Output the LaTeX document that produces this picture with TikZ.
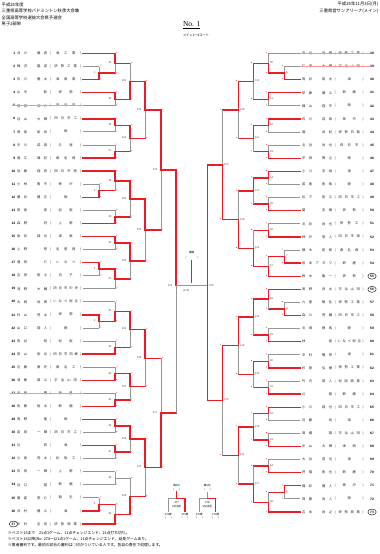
\documentclass[tikz,border=0pt]{standalone}
\usepackage{fontspec}
\newfontfamily\jp{Noto Sans CJK JP}
\newfontfamily\nf{Liberation Sans}
\newfontfamily\serifnf{Liberation Serif}
\usetikzlibrary{calc}
\definecolor{rl}{RGB}{236,28,36}
\definecolor{gl}{RGB}{150,150,150}
\definecolor{pk}{RGB}{244,150,150}
\def\spr#1{\sprA#1\relax}
\def\sprA#1#2{#1\ifx\relax#2\else\hfill\expandafter\sprA\expandafter#2\fi}
\def\tdx{1.8}
\tikzset{
 RD/.style={draw=rl,line width=1.35pt,line cap=rect},
 GR/.style={draw=gl,line width=0.85pt},
 labL/.style={font=\nf\fontsize{2.7}{3}\selectfont,text=black!70,inner sep=0,anchor=east,xshift=-3.5pt,yshift=0.6pt},
 labR/.style={font=\nf\fontsize{2.7}{3}\selectfont,text=black!70,inner sep=0,anchor=west,xshift=1.5pt,yshift=0.6pt},
 lab/.style={labL},
 num/.style={font=\nf\bfseries\fontsize{3.3}{3.5}\selectfont,inner sep=0},
 nm/.style={font=\jp\fontsize{3.3}{3.5}\selectfont,inner sep=0,text=black!85},
 hd/.style={font=\jp\fontsize{4.3}{4.6}\selectfont,inner sep=0},
 ft/.style={font=\jp\fontsize{3.8}{4.1}\selectfont,inner sep=0,anchor=west},
 ms/.style={font=\jp\fontsize{2.6}{2.9}\selectfont,inner sep=0},
}
% match: name, childA, childB, x, hA, hB, vA, vB, label
\newcommand\mt[9]{%
 \coordinate (#1h) at ($(#2)!0.5!(#3)$);
 \coordinate (#1) at (#1h -| #4,0);
 \draw[#5] (#2) -- (#2 -| #4,0);
 \draw[#6] (#3) -- (#3 -| #4,0);
 \draw[#7] (#2 -| #4,0) -- (#1);
 \draw[#8] (#1) -- (#3 -| #4,0);
 \fill[rl] ($(#2 -| #4,0)+(\tdx,-0.9)$) circle (0.45pt);
 \fill[rl] ($(#3 -| #4,0)+(\tdx,-0.9)$) circle (0.45pt);
 \node[lab] (t#1) at (#1) {#9};
}
\newcommand\pL[3]{%
 \pgfmathsetmacro\yy{53.5+(#1-1)*13.07}%
 \coordinate (L#1) at (83,\yy);
 \node[num,anchor=east] (nL#1) at (15.5,\yy) {#1};
 \node[nm,anchor=west] (aL#1) at (17,\yy) {\makebox[30pt][s]{\spr{#2}}};
 \node[nm,anchor=west] (sL#1) at (50,\yy) {\makebox[31pt][s]{(\hfill\spr{#3}\hfill)}};
}
\newcommand\pR[3]{%
 \pgfmathsetmacro\yy{53.5+(#1-38)*13.1}%
 \coordinate (L#1) at (300.4,\yy);
 \node[nm,anchor=west] (aL#1) at (302,\yy) {\makebox[30pt][s]{\spr{#2}}};
 \node[nm,anchor=west] (sL#1) at (334.5,\yy) {\makebox[29pt][s]{(\hfill\spr{#3}\hfill)}};
 \node[num,anchor=west] (nL#1) at (370,\yy) {#1};
}
\begin{document}
\begin{tikzpicture}[x=1pt,y=-1pt]
\useasboundingbox (0,0) rectangle (380,554);
\fill[white] (0,0) rectangle (380,554);
% header
\node[hd,anchor=west] (h1) at (1.5,4.5) {平成26年度};
\node[hd,anchor=west] (h2) at (1.5,11) {三重県高等学校バドミントン秋季大会兼};
\node[hd,anchor=west] (h3) at (1.5,17.5) {全国高等学校選抜大会県予選会};
\node[hd,anchor=west] (h4) at (1.5,24) {男子2部単};
\node[hd,anchor=east] (h5) at (378.5,4.5) {平成26年11月3日(月)};
\node[hd,anchor=east] (h6) at (378.5,11) {三重県営サンアリーナ(メイン)};
\node[font=\serifnf\fontsize{7.5}{8}\selectfont,inner sep=0] (title) at (191.7,25.5) {\underline{No. 1}};
\node[ms,font=\jp\fontsize{3.2}{3.5}\selectfont] (sub) at (196,35.5) {メイン1～4コート};
% left players
\pL{1}{井川　優真}{津工業}
\pL{2}{梅沢　雄成}{伊勢工業}
\pL{3}{石川　優太}{津商業}
\pL{4}{山中　　聡}{伊勢}
\pL{5}{岡田　涼介}{四日市}
\pL{6}{谷山　大輝}{四日市工}
\pL{7}{西島　祐尚}{暁}
\pL{8}{中川　成真}{久居}
\pL{9}{堀江　颯記}{桑名西}
\pL{10}{加藤　翔吾}{四日市南}
\pL{11}{小林　篤平}{神戸}
\pL{12}{藤井　健正}{暁}
\pL{13}{田島　　拓}{松阪}
\pL{14}{森野　　将}{上野}
\pL{15}{坂井　誠也}{津東}
\pL{16}{上野　　悠}{名張西}
\pL{17}{増田　　仁}{いなべ}
\pL{18}{吉田　剛士}{白子}
\pL{19}{浅野　大輔}{四日市中央}
\pL{20}{大西　尚貴}{いなべ総合}
\pL{21}{村山　亮太}{伊勢}
\pL{22}{山口　翔人}{暁}
\pL{23}{長谷　　稔}{松阪}
\pL{24}{長山　拓也}{四日市四郷}
\pL{25}{近藤　康史}{桑名工}
\pL{26}{須藤　陽斗}{宇治山田}
\pL{27}{中西　　慶}{海星}
\pL{28}{佐藤　裕太}{鈴鹿}
\pL{29}{真野　　隆}{暁}
\pL{30}{岩田　一輝}{四日市工}
\pL{31}{辻　　　昇}{津}
\pL{32}{小島　亮太}{松阪工}
\pL{33}{石田　一輝}{上野}
\pL{34}{谷口　　翔}{鈴鹿}
\pL{35}{服部　悠介}{稲生}
\pL{36}{井村　健斗}{津}
\pL{37}{中村　圭吾}{伊勢商業}
\draw[black,line width=0.4pt] (nL37.center) ellipse (4.2pt and 3pt);
% right players
\pR{38}{寺谷　尚樹}{伊勢工業}
\pR{39}{仁田　大輝}{宇治山田}
\pR{40}{高井　俊太}{津}
\pR{41}{伊藤　健斗}{鈴鹿}
\pR{42}{横山　翔平}{暁}
\pR{43}{石川　成希}{神戸}
\pR{44}{堀　　武紀}{伊賀白鳳}
\pR{45}{北谷　尚也}{四日市}
\pR{46}{平田　賢之}{暁}
\pR{47}{小川　友裕}{津}
\pR{48}{若尾　拓哉}{暁}
\pR{49}{松下　拓斗}{四日市工}
\pR{50}{菊　　友樹}{伊勢}
\pR{51}{北井　尚也}{伊勢工}
\pR{52}{神戸　悠人}{四日市南}
\pR{53}{横木　拓郎}{桑名西}
\pR{54}{宮本アダマ}{鈴鹿}
\pR{55}{鈴木　亀一}{伊勢}
\pR{56}{髙野　良太}{宇治山田}
\pR{57}{九里　敏弘}{伊勢工業}
\pR{58}{森川　亮輔}{四日市工}
\pR{59}{北畑　静馬}{暁}
\pR{60}{林　　　直}{いなべ総合}
\pR{61}{中村　暢昂}{津}
\pR{62}{杉原　弘樹}{伊勢工業}
\pR{63}{竹内　昭人}{松阪商業}
\pR{64}{辻　　　翔}{鈴鹿}
\pR{65}{小川　翔也}{四日市工}
\pR{66}{近藤　　武}{津}
\pR{67}{高橋　　翔}{宇治山田}
\pR{68}{中山　大輝}{津西}
\pR{69}{大谷　晃也}{津}
\pR{70}{円福　拓也}{鈴鹿}
\pR{71}{福井　健人}{神戸}
\pR{72}{齊藤　尚人}{暁}
\pR{73}{吉本　尚之}{伊勢商業}
\foreach \k in {55,56,73} {\draw[black,line width=0.4pt] (nL\k.center) ellipse (4.2pt and 3pt);}
% pink strike lines
\draw[pk,line width=0.6pt] (12,{53.5+4*13.07}) -- (L5);
\draw[pk,line width=0.6pt] (10,{53.5+26*13.07}) -- (L27);
\draw[pk,line width=0.6pt] (L38) -- (370,53.5);
\draw[pk,line width=0.6pt] (284,66.6) -- (370,66.6);
% ---------- left bracket
\mt{P1}{L2}{L3}{99}{GR}{RD}{GR}{RD}{1}
\mt{M34}{L1}{P1}{115}{RD}{RD}{RD}{GR}{34}
\mt{M35}{L4}{L5}{115}{RD}{GR}{RD}{GR}{35}
\mt{M102}{M34}{M35}{130}{RD}{RD}{GR}{RD}{102}
\mt{M36}{L6}{L7}{115}{RD}{GR}{RD}{GR}{36}
\mt{M37}{L8}{L9}{115}{GR}{RD}{GR}{RD}{37}
\mt{M103}{M36}{M37}{130}{RD}{RD}{RD}{GR}{103}
\mt{M134}{M102}{M103}{145}{RD}{RD}{RD}{GR}{134}
\mt{P2}{L11}{L12}{99}{GR}{RD}{GR}{RD}{2}
\mt{M38}{L10}{P2}{115}{RD}{RD}{RD}{GR}{38}
\mt{M39}{L13}{L14}{115}{GR}{RD}{GR}{RD}{39}
\mt{M104}{M38}{M39}{130}{RD}{RD}{RD}{GR}{104}
\mt{M40}{L15}{L16}{115}{RD}{GR}{RD}{GR}{40}
\mt{P3}{L17}{L18}{99}{RD}{GR}{RD}{GR}{3}
\mt{M41}{P3}{L19}{115}{RD}{GR}{RD}{GR}{41}
\mt{M105}{M40}{M41}{130}{RD}{RD}{RD}{GR}{105}
\mt{M135}{M104}{M105}{145}{RD}{RD}{RD}{GR}{135}
\mt{M270}{M134}{M135}{161}{RD}{RD}{RD}{GR}{270}
\mt{P4}{L21}{L22}{99}{RD}{GR}{RD}{GR}{4}
\mt{M42}{L20}{P4}{115}{GR}{RD}{GR}{RD}{42}
\mt{M43}{L23}{L24}{115}{GR}{RD}{GR}{RD}{43}
\mt{M106}{M42}{M43}{130}{RD}{RD}{RD}{GR}{106}
\mt{M44}{L25}{L26}{115}{GR}{RD}{GR}{RD}{44}
\mt{M45}{L27}{L28}{115}{GR}{RD}{GR}{RD}{45}
\mt{M107}{M44}{M45}{130}{RD}{RD}{RD}{GR}{107}
\mt{M136}{M106}{M107}{145}{RD}{RD}{RD}{GR}{136}
\mt{M46}{L29}{L30}{115}{RD}{GR}{RD}{GR}{46}
\mt{M47}{L31}{L32}{115}{RD}{GR}{RD}{GR}{47}
\mt{M108}{M46}{M47}{130}{RD}{RD}{RD}{GR}{108}
\mt{M48}{L33}{L34}{115}{GR}{GR}{GR}{GR}{48}
\mt{P5}{L35}{L36}{99}{GR}{RD}{GR}{RD}{5}
\mt{M49}{P5}{L37}{115}{RD}{RD}{GR}{RD}{49}
\mt{M109}{M48}{M49}{130}{GR}{RD}{GR}{RD}{109}
\mt{M137}{M108}{M109}{145}{RD}{RD}{RD}{GR}{137}
\mt{M271}{M136}{M137}{161}{RD}{RD}{GR}{RD}{271}
% ---------- right bracket
\def\tdx{-1.8}
\tikzset{lab/.style={labR}}
\mt{P6}{L39}{L40}{284.4}{GR}{RD}{GR}{RD}{6}
\mt{M50}{L38}{P6}{268.4}{GR}{RD}{GR}{RD}{50}
\mt{M51}{L41}{L42}{268.4}{RD}{GR}{RD}{GR}{51}
\mt{M110}{M50}{M51}{253.4}{RD}{RD}{RD}{GR}{110}
\mt{M52}{L43}{L44}{268.4}{RD}{GR}{RD}{GR}{52}
\mt{M53}{L45}{L46}{268.4}{GR}{RD}{GR}{RD}{53}
\mt{M111}{M52}{M53}{253.4}{RD}{RD}{RD}{GR}{111}
\mt{M138}{M110}{M111}{238.4}{RD}{RD}{RD}{GR}{138}
\mt{M54}{L47}{L48}{268.4}{RD}{GR}{RD}{GR}{54}
\mt{M55}{L49}{L50}{268.4}{GR}{RD}{GR}{RD}{55}
\mt{M112}{M54}{M55}{253.4}{RD}{RD}{RD}{GR}{112}
\mt{M56}{L51}{L52}{268.4}{GR}{RD}{GR}{RD}{56}
\mt{P7}{L53}{L54}{284.4}{GR}{RD}{GR}{RD}{7}
\mt{M57}{P7}{L55}{268.4}{RD}{RD}{GR}{RD}{57}
\mt{M113}{M56}{M57}{253.4}{RD}{RD}{GR}{RD}{113}
\mt{M139}{M112}{M113}{238.4}{RD}{RD}{GR}{RD}{139}
\mt{M272}{M138}{M139}{222.4}{RD}{RD}{GR}{RD}{272}
\mt{P8}{L57}{L58}{284.4}{GR}{RD}{GR}{RD}{8}
\mt{M58}{L56}{P8}{268.4}{RD}{RD}{RD}{GR}{58}
\mt{M59}{L59}{L60}{268.4}{GR}{RD}{GR}{RD}{59}
\mt{M114}{M58}{M59}{253.4}{RD}{RD}{RD}{GR}{114}
\mt{M60}{L61}{L62}{268.4}{GR}{RD}{GR}{RD}{60}
\mt{M61}{L63}{L64}{268.4}{GR}{RD}{GR}{RD}{61}
\mt{M115}{M60}{M61}{253.4}{RD}{RD}{RD}{GR}{115}
\mt{M140}{M114}{M115}{238.4}{RD}{RD}{RD}{GR}{140}
\mt{M62}{L65}{L66}{268.4}{RD}{GR}{RD}{GR}{62}
\mt{M63}{L67}{L68}{268.4}{GR}{RD}{GR}{RD}{63}
\mt{M116}{M62}{M63}{253.4}{RD}{RD}{GR}{RD}{116}
\mt{M64}{L69}{L70}{268.4}{GR}{RD}{GR}{RD}{64}
\mt{P9}{L71}{L72}{284.4}{RD}{GR}{RD}{GR}{9}
\mt{M65}{P9}{L73}{268.4}{RD}{RD}{GR}{RD}{65}
\mt{M117}{M64}{M65}{253.4}{RD}{RD}{GR}{RD}{117}
\mt{M141}{M116}{M117}{238.4}{RD}{RD}{RD}{GR}{141}
\mt{M273}{M140}{M141}{222.4}{RD}{RD}{RD}{GR}{273}
% ---------- semifinals and final
\coordinate (FL) at (176,285.7);
\coordinate (FR) at (207.4,285.7);
\draw[RD] (M270) -- (M270 -| FL);
\draw[RD] (M271) -- (M271 -| FL);
\draw[GR] (FL) -- (M271 -| FL);
\draw[RD] (M270 -| FL) -- (FL);
\draw[RD] (M272) -- (M272 -| FR);
\draw[RD] (M273) -- (M273 -| FR);
\draw[RD] (M272 -| FR) -- (FR);
\draw[RD] (FR) -- (M273 -| FR);
\node[labL] (t274) at (FL) {274};
\node[labR] (t275) at (FR) {275};
\draw[GR] (FL) -- (FR);
\coordinate (CH) at (191.7,260.7);
\draw[RD] (CH) -- (191.7,282.3);
\node[ms] (champ) at (191.7,253) {優勝};
\node[ms] (champb) at (191.7,257.4) {(　　　　)};
\node[labL,anchor=center,xshift=0pt,yshift=0pt] (t276) at (189.5,291) {[276]};
% mini brackets
\coordinate (A0) at (176.7,498.3);
\draw[RD] (176.7,492) -- (A0);
\draw[GR] (168.3,498.3) -- (A0);
\draw[RD] (A0) -- (185,498.3);
\draw[GR] (168.3,498.3) -- (168.3,511.5);
\draw[RD] (185,498.3) -- (185,511.5);
\node[ms] (a1) at (176.7,485.6) {第3位};
\node[ms] (a2) at (176.7,489.6) {(　　)};
\node[ms] (a3) at (176.7,502.5) {277};
\node[ms] (a4) at (176.7,506.2) {3位決定};
\node[ms] (a5) at (168.3,514.3) {274敗};
\node[ms] (a6) at (168.3,518) {(　　)};
\node[ms] (a7) at (185,514.3) {275敗};
\node[ms] (a8) at (185,518) {(　　)};
\coordinate (B0) at (207.3,498.3);
\draw[GR] (207.3,492) -- (B0);
\draw[GR] (199.3,498.3) -- (B0);
\draw[RD] (B0) -- (215.7,498.3);
\draw[GR] (199.3,498.3) -- (199.3,511.5);
\draw[RD] (215.7,498.3) -- (215.7,511.5);
\node[ms] (b1) at (207.3,485.6) {第5位};
\node[ms] (b2) at (207.3,489.6) {(　　)};
\node[ms] (b3) at (207.3,502.5) {278};
\node[ms] (b4) at (207.3,506.2) {5位決定};
\node[ms] (b5) at (199.3,514.3) {270敗};
\node[ms] (b6) at (199.3,518) {(　　)};
\node[ms] (b7) at (215.7,514.3) {273敗};
\node[ms] (b8) at (215.7,518) {(　　)};
% footer
\node[ft] (f1) at (8,533) {※ベスト16まで　21点1ゲーム、11点チェンジエンド、21点打ち切り。};
\node[ft] (f2) at (8,539) {※ベスト16以降(No. 274～)21点1ゲーム、11点チェンジエンド、延長ゲームあり。};
\node[ft] (f3) at (8,545) {※敗者審判です。最初の試合の審判は○印がついている人です。各自の責任で処理します。};
\end{tikzpicture}
\end{document}
